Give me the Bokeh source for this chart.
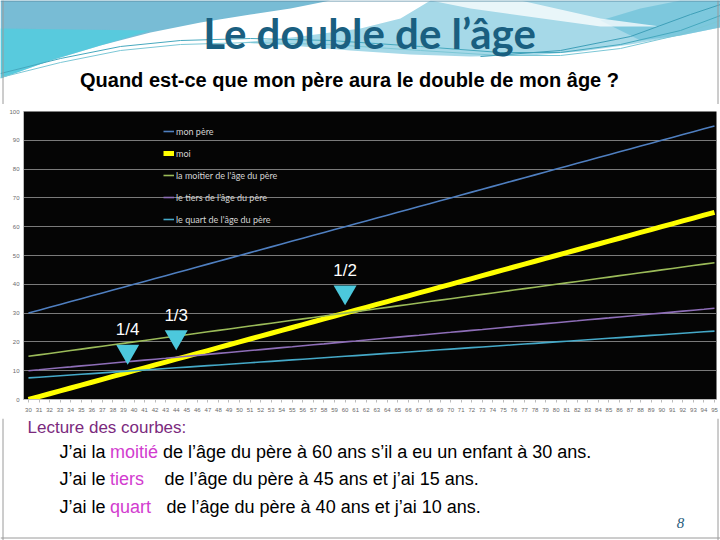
from bokeh.plotting import figure
from bokeh.layouts import column
from bokeh.models import Range1d, FixedTicker, Legend, LegendItem
from bokeh.core.properties import value
from bokeh.embed import file_html
from bokeh.resources import INLINE

# ---------------- data ----------------
ages = [30, 31, 32, 33, 34, 35, 36, 37, 38, 39, 40, 41, 42, 43, 44, 45, 46, 47, 48, 49,
        50, 51, 52, 53, 54, 55, 56, 57, 58, 59, 60, 61, 62, 63, 64, 65, 66, 67, 68, 69,
        70, 71, 72, 73, 74, 75, 76, 77, 78, 79, 80, 81, 82, 83, 84, 85, 86, 87, 88, 89,
        90, 91, 92, 93, 94, 95]
pere = [30, 31, 32, 33, 34, 35, 36, 37, 38, 39, 40, 41, 42, 43, 44, 45, 46, 47, 48, 49,
        50, 51, 52, 53, 54, 55, 56, 57, 58, 59, 60, 61, 62, 63, 64, 65, 66, 67, 68, 69,
        70, 71, 72, 73, 74, 75, 76, 77, 78, 79, 80, 81, 82, 83, 84, 85, 86, 87, 88, 89,
        90, 91, 92, 93, 94, 95]
moi = [0, 1, 2, 3, 4, 5, 6, 7, 8, 9, 10, 11, 12, 13, 14, 15, 16, 17, 18, 19,
       20, 21, 22, 23, 24, 25, 26, 27, 28, 29, 30, 31, 32, 33, 34, 35, 36, 37, 38, 39,
       40, 41, 42, 43, 44, 45, 46, 47, 48, 49, 50, 51, 52, 53, 54, 55, 56, 57, 58, 59,
       60, 61, 62, 63, 64, 65]
moitie = [15, 15.5, 16, 16.5, 17, 17.5, 18, 18.5, 19, 19.5, 20, 20.5, 21, 21.5, 22, 22.5,
          23, 23.5, 24, 24.5, 25, 25.5, 26, 26.5, 27, 27.5, 28, 28.5, 29, 29.5, 30, 30.5,
          31, 31.5, 32, 32.5, 33, 33.5, 34, 34.5, 35, 35.5, 36, 36.5, 37, 37.5, 38, 38.5,
          39, 39.5, 40, 40.5, 41, 41.5, 42, 42.5, 43, 43.5, 44, 44.5, 45, 45.5, 46, 46.5,
          47, 47.5]
tiers = [10, 10.33, 10.67, 11, 11.33, 11.67, 12, 12.33, 12.67, 13, 13.33, 13.67,
         14, 14.33, 14.67, 15, 15.33, 15.67, 16, 16.33, 16.67, 17, 17.33, 17.67,
         18, 18.33, 18.67, 19, 19.33, 19.67, 20, 20.33, 20.67, 21, 21.33, 21.67,
         22, 22.33, 22.67, 23, 23.33, 23.67, 24, 24.33, 24.67, 25, 25.33, 25.67,
         26, 26.33, 26.67, 27, 27.33, 27.67, 28, 28.33, 28.67, 29, 29.33, 29.67,
         30, 30.33, 30.67, 31, 31.33, 31.67]
quart = [7.5, 7.75, 8, 8.25, 8.5, 8.75, 9, 9.25, 9.5, 9.75, 10, 10.25, 10.5, 10.75,
         11, 11.25, 11.5, 11.75, 12, 12.25, 12.5, 12.75, 13, 13.25, 13.5, 13.75,
         14, 14.25, 14.5, 14.75, 15, 15.25, 15.5, 15.75, 16, 16.25, 16.5, 16.75,
         17, 17.25, 17.5, 17.75, 18, 18.25, 18.5, 18.75, 19, 19.25, 19.5, 19.75,
         20, 20.25, 20.5, 20.75, 21, 21.25, 21.5, 21.75, 22, 22.25, 22.5, 22.75,
         23, 23.25, 23.5, 23.75]
y_ticks = [0, 10, 20, 30, 40, 50, 60, 70, 80, 90, 100]

series_labels = ["mon père", "moi", "la moitier de l'âge du père",
                 "le tiers de l'âge du père", "le quart de l'âge du père"]
fractions = ["1/4", "1/3", "1/2"]
frac_x = [39.4, 44.0, 60.0]
frac_y = [16.7, 21.7, 37.3]

title_text = "Le double de l’âge"
subtitle_text = "Quand est-ce que mon père aura le double de mon âge ?"
reading_title = "Lecture des courbes:"
reading_start = ["J’ai la ", "J’ai le ", "J’ai le "]
reading_word = ["moitié", "tiers", "quart"]
reading_rest = ["de l’âge du père à 60 ans s’il a eu un enfant à 30 ans.",
                "de l’âge du père à 45 ans et j’ai 15 ans.",
                "de l’âge du père à 40 ans et j’ai 10 ans."]
page_number = "8"

W = 720


def blank(h, y0, y1):
    f = figure(width=W, height=h, x_range=Range1d(0, 720), y_range=Range1d(y1, y0),
               output_backend="svg", toolbar_location=None,
               x_axis_location=None, y_axis_location=None, min_border=0,
               min_border_left=0, min_border_right=0, min_border_top=0, min_border_bottom=0,
               background_fill_color="white", border_fill_color="white",
               outline_line_color=None)
    f.grid.visible = False
    return f


# ---------------- header ----------------
h = blank(104, 0, 104)
h.patch([0, 330, 290, 250, 200, 150, 100, 50, 0], [0, 0, 8, 14, 22, 32, 45, 60, 78],
        fill_color="#78BCD5", line_color=None)
h.patch([0, 150, 100, 50, 0], [28, 30, 45, 60, 78], fill_color="#3ED6E4",
        fill_alpha=0.55, line_color=None)
h.patch([430, 720, 720, 680, 630, 580, 530, 470, 410, 350, 290, 240, 300, 360, 400],
        [0, 0, 27, 35, 44, 51, 55, 56, 54, 50, 45, 42, 36, 28, 18],
        fill_color="#A6D9E8", line_color=None)
h.patch([720, 720, 680, 640, 600, 640, 680], [0, 27, 35, 40, 20, 8, 0],
        fill_color="#6CC0D8", fill_alpha=0.7, line_color=None)
h.patch([430, 520, 600, 660, 600, 520, 470], [0, 0, 18, 26, 26, 15, 8],
        fill_color="white", fill_alpha=0.75, line_color=None)
h.line([0, 60, 120, 180, 250, 330, 420, 500, 560, 620, 680, 720],
       [73, 58, 46, 40, 38, 40, 46, 52, 52, 44, 30, 15], line_color="#46A8BE", line_width=1)
h.line([0, 60, 120, 180, 250, 330, 420, 500, 560, 620, 680, 720],
       [77, 62, 50, 44, 42, 44, 50, 55, 55, 48, 34, 20], line_color="#7CC7D6", line_width=1)
h.line([480, 560, 630, 690, 720], [56, 50, 36, 14, 4], line_color="#3F9FB8", line_width=1)
h.line([2.5, 2.5], [0, 104], line_color="#9A9A9A", line_width=1)
h.line([717.5, 717.5], [0, 104], line_color="#9A9A9A", line_width=1)
h.line([0, 720], [0.5, 0.5], line_color="#5E8FA8", line_width=1)
h.text(x=[369], y=[32], text=[title_text], text_font=value("Lato"),
       text_font_style="bold", text_font_size="42px", text_color="#1A5F80",
       text_align="center", text_baseline="middle")
h.text(x=[349], y=[79], text=[subtitle_text], text_font=value("Liberation Sans"),
       text_font_style="bold", text_font_size="20px", text_color="black",
       text_align="center", text_baseline="middle")

# ---------------- chart ----------------
p = figure(width=W, height=314, x_range=Range1d(29.53, 95.19), y_range=Range1d(0, 100),
           output_backend="svg", toolbar_location=None,
           min_border_left=23, min_border_right=4, min_border_top=7, min_border_bottom=19,
           background_fill_color="#050505", border_fill_color="white",
           outline_line_color=None)
p.xgrid.visible = False
p.ygrid.grid_line_color = "#7A7A7A"
p.ygrid.grid_line_width = 1
p.xaxis.ticker = FixedTicker(ticks=ages)
p.yaxis.ticker = FixedTicker(ticks=y_ticks)
for ax in (p.xaxis, p.yaxis):
    ax.major_label_text_font = "Liberation Sans"
    ax.major_label_text_font_size = "6px"
    ax.major_label_text_color = "#6A6A6A"
    ax.axis_line_color = "#BBBBBB"
    ax.major_tick_line_color = "#BBBBBB"
    ax.minor_tick_line_color = None
    ax.major_tick_in = 0
p.xaxis.major_tick_out = 3
p.xaxis.major_label_standoff = 5
p.yaxis.major_tick_out = 0
p.yaxis.major_label_standoff = 4

r1 = p.line(ages, pere, line_color="#4F7FC0", line_width=1.6)
r2 = p.line(ages, moi, line_color="#FFFF00", line_width=5)
r3 = p.line(ages, moitie, line_color="#9BBB59", line_width=1.6)
r4 = p.line(ages, tiers, line_color="#8E6EB8", line_width=1.6)
r5 = p.line(ages, quart, line_color="#45A9C8", line_width=1.6)

legend = Legend(items=[LegendItem(label=l, renderers=[r])
                       for l, r in zip(series_labels, [r1, r2, r3, r4, r5])],
                location=(140, 173), background_fill_alpha=0, border_line_color=None,
                label_text_color="#D4D4D4", label_text_font="Lato",
                label_text_font_size="9px", glyph_width=11, glyph_height=14,
                label_height=14, spacing=8, padding=0, margin=0, label_standoff=2)
p.add_layout(legend)

p.scatter(frac_x, frac_y, marker="inverted_triangle", size=23,
          fill_color="#4CC8DC", line_color=None)
p.text(frac_x, frac_y, text=fractions, text_color="white",
       text_font=value("Liberation Sans"), text_font_size="17px",
       text_align="center", text_baseline="middle", y_offset=-22)

# ---------------- bottom text ----------------
b = blank(122, 418, 540)
b.line([2.5, 2.5], [418, 540], line_color="#9A9A9A", line_width=1)
b.line([717.5, 717.5], [418, 540], line_color="#9A9A9A", line_width=1)
b.line([0, 720], [537.5, 537.5], line_color="#9A9A9A", line_width=1)
b.text(x=[27], y=[427], text=[reading_title], text_font=value("Liberation Sans"),
       text_font_size="17px", text_color="#7B2A7E", text_baseline="middle")
b.text(x=[59, 59, 59], y=[451, 478.5, 506.5], text=reading_start,
       text_font=value("Liberation Sans"), text_font_size="18px", text_color="black",
       text_baseline="middle")
b.text(x=[109.5, 109.5, 109.5], y=[451, 478.5, 506.5], text=reading_word,
       text_font=value("Liberation Sans"), text_font_size="18px", text_color="#D23CCF",
       text_baseline="middle")
b.text(x=[162.5, 164, 166], y=[451, 478.5, 506.5], text=reading_rest,
       text_font=value("Liberation Sans"), text_font_size="18px", text_color="black",
       text_baseline="middle")
b.text(x=[680], y=[522], text=[page_number], text_font=value("Liberation Serif"),
       text_font_style="italic", text_font_size="15px", text_color="#1F5A7A",
       text_align="center", text_baseline="middle")

# each figure wrapped in its own column so the frames are not aligned together
layout = column(column(h), column(p), column(b), spacing=0)
open("out.html", "w").write(file_html(layout, INLINE))
